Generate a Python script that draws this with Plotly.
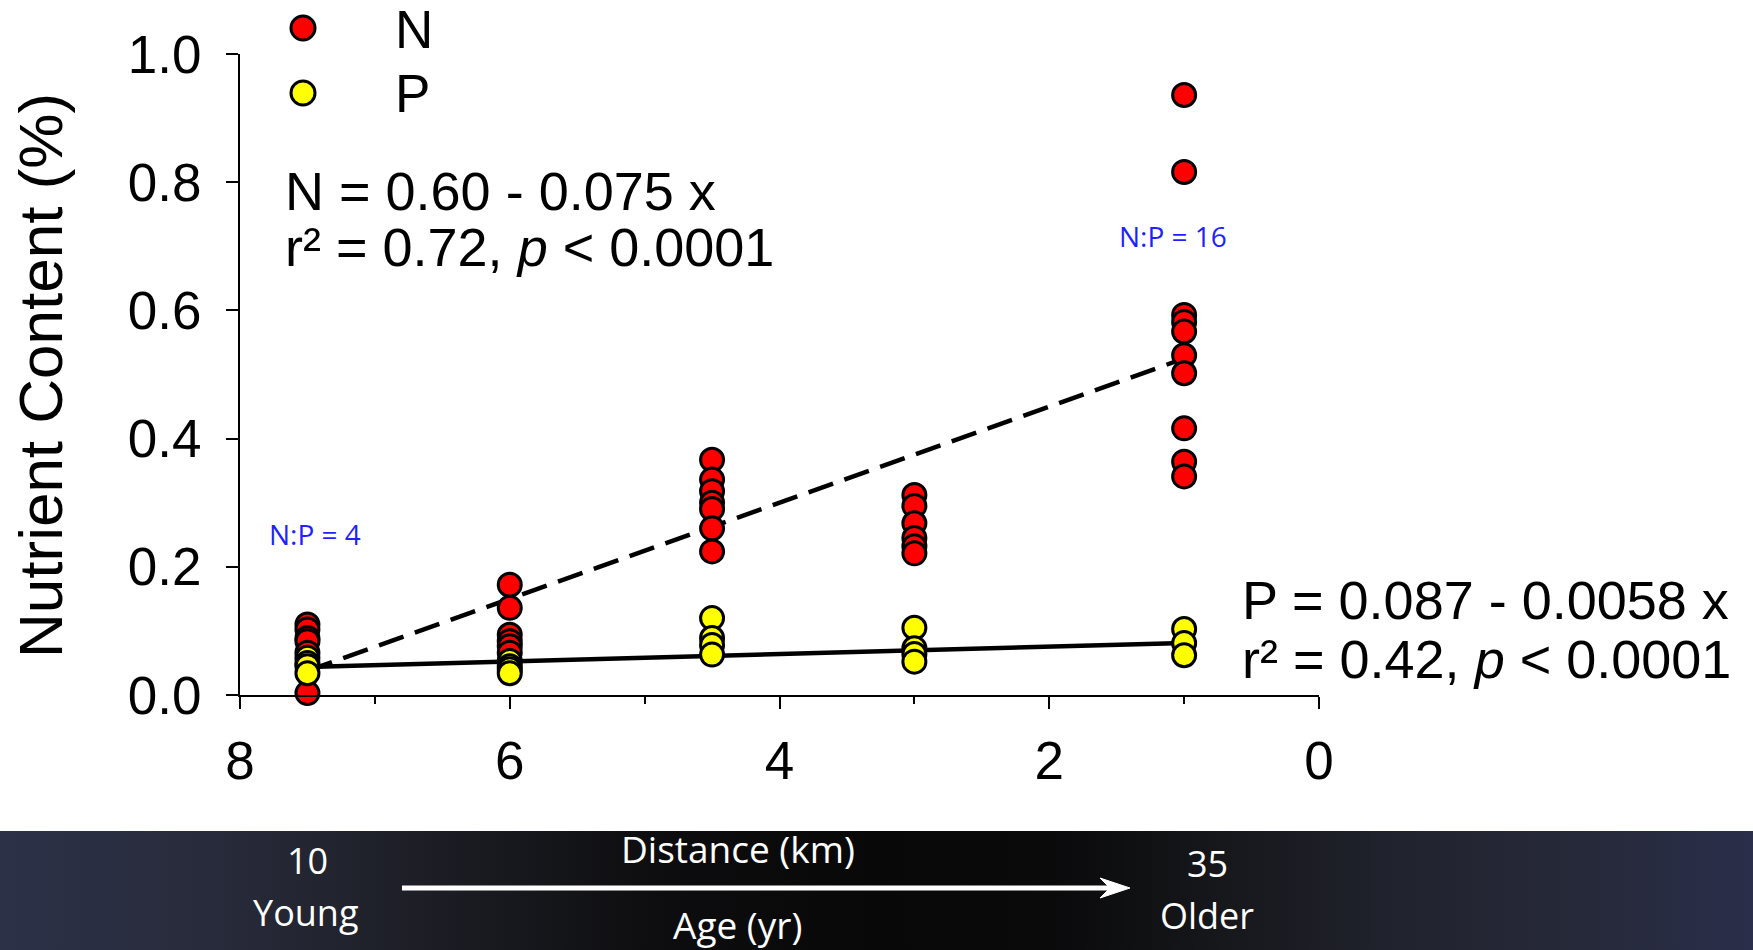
import base64
import plotly.graph_objects as go

W, H = 1753, 950

# ---------------- data ----------------
distance_km = [7.5, 6.0, 4.5, 3.0, 1.0]
n_values = [
    [0.110, 0.102, 0.089, 0.084, 0.066, 0.003],
    [0.172, 0.136, 0.094, 0.084, 0.076, 0.066],
    [0.367, 0.336, 0.318, 0.300, 0.290, 0.260, 0.224],
    [0.312, 0.295, 0.268, 0.245, 0.232, 0.221],
    [0.936, 0.816, 0.593, 0.582, 0.567, 0.530, 0.502, 0.416, 0.364, 0.341],
]
p_values = [
    [0.058, 0.050, 0.045, 0.034],
    [0.053, 0.045, 0.040, 0.034],
    [0.120, 0.089, 0.078, 0.063],
    [0.105, 0.073, 0.064, 0.052],
    [0.103, 0.081, 0.062],
]
# regression coefficients printed on the chart: y = a - b*x
n_fit = (0.60, 0.075)
p_fit = (0.087, 0.0058)
fit_x = [7.5, 1.0]

x_ticks = [8, 6, 4, 2, 0]
y_ticks = [0.0, 0.2, 0.4, 0.6, 0.8, 1.0]

# ---------------- helpers ----------------
def px(x):
    return x / W

def py(y):
    return 1 - y / H

def flatten(xs, groups):
    xx, yy = [], []
    for x, g in zip(xs, groups):
        for v in g:
            xx.append(x)
            yy.append(v)
    return xx, yy

nx, ny = flatten(distance_km, n_values)
pxs, pys = flatten(distance_km, p_values)

FONT = "Liberation Sans, Arial, sans-serif"
FONT2 = "Open Sans, Noto Sans, sans-serif"

fig = go.Figure()

fig.add_trace(go.Scatter(
    x=fit_x, y=[n_fit[0] - n_fit[1] * v for v in fit_x], mode="lines",
    line=dict(color="black", width=4.5, dash="26px,12px"), showlegend=False,
    hoverinfo="skip"))
fig.add_trace(go.Scatter(
    x=fit_x, y=[p_fit[0] - p_fit[1] * v for v in fit_x], mode="lines",
    line=dict(color="black", width=4.5), showlegend=False, hoverinfo="skip"))
fig.add_trace(go.Scatter(
    x=nx, y=ny, mode="markers", name="N",
    marker=dict(size=23, color="#ff0000", line=dict(color="black", width=3)),
    showlegend=False, cliponaxis=False))
fig.add_trace(go.Scatter(
    x=pxs, y=pys, mode="markers", name="P",
    marker=dict(size=23, color="#ffff00", line=dict(color="black", width=3)),
    showlegend=False, cliponaxis=False))

x0d, x1d = 240 / W, 1319 / W
y0d, y1d = 1 - 695 / H, 1 - 54 / H

fig.update_xaxes(
    domain=[x0d, x1d], range=[8, 0], tickvals=x_ticks, ticktext=[str(v) for v in x_ticks],
    showline=True, linecolor="black", linewidth=2, showgrid=False, zeroline=False,
    ticks="outside", ticklen=12, tickwidth=2, tickcolor="black",
    tickfont=dict(family=FONT, size=53, color="black"), ticklabelstandoff=6,
    minor=dict(ticks="outside", ticklen=7, tickwidth=2, tickcolor="black", dtick=1, tick0=0),
)
fig.update_yaxes(
    domain=[y0d, y1d], range=[0, 1], tickvals=y_ticks,
    ticktext=[f"{v:.1f}" for v in y_ticks],
    showline=True, linecolor="black", linewidth=2, showgrid=False, zeroline=False,
    ticks="outside", ticklen=12, tickwidth=2, tickcolor="black",
    tickfont=dict(family=FONT, size=53, color="black"), ticklabelstandoff=14,
)

ann = []
def text(x, y, t, size=54, color="black", family=FONT, xanchor="left", angle=0):
    ann.append(dict(x=px(x), y=py(y), xref="paper", yref="paper", text=t,
                    showarrow=False, xanchor=xanchor, yanchor="middle",
                    textangle=angle, font=dict(family=family, size=size, color=color)))

# y-axis title
text(41, 376, "Nutrient Content (%)", size=62, xanchor="center", angle=-90)
# legend
text(393, 30, "N", size=53)
text(393, 93, "P", size=53)
# equations
text(283, 191, "N = 0.60 - 0.075 x")
text(283, 247, "r² = 0.72, <i>p</i> &lt; 0.0001")
text(1240, 600, "P = 0.087 - 0.0058 x")
text(1240, 659, "r² = 0.42, <i>p</i> &lt; 0.0001")
# N:P ratios
text(315, 534, "N:P = 4", size=28, color="#1f1fff", family=FONT2, xanchor="center")
text(1173, 236, "N:P = 16", size=28, color="#1f1fff", family=FONT2, xanchor="center")
# bottom band texts
text(307, 860, "10", size=36, color="white", family=FONT2, xanchor="center")
text(306, 912, "Young", size=36, color="white", family=FONT2, xanchor="center")
text(738, 848, "Distance (km)", size=37, color="white", family=FONT2, xanchor="center")
text(737, 924, "Age (yr)", size=37, color="white", family=FONT2, xanchor="center")
text(1207, 863, "35", size=36, color="white", family=FONT2, xanchor="center")
text(1207, 915, "Older", size=36, color="white", family=FONT2, xanchor="center")

shapes = []
# legend markers
for cy, col in [(28, "#ff0000"), (93, "#ffff00")]:
    shapes.append(dict(type="circle", xref="paper", yref="paper",
                       xsizemode="pixel", ysizemode="pixel",
                       xanchor=px(303), yanchor=py(cy), x0=-12, x1=12, y0=-12, y1=12,
                       fillcolor=col, line=dict(color="black", width=3)))
# arrow
shapes.append(dict(type="line", xref="paper", yref="paper",
                   x0=px(402), x1=px(1112), y0=py(888), y1=py(888),
                   line=dict(color="white", width=5)))
tip, back, notch = 1130, 1100, 1110
shapes.append(dict(type="path", xref="paper", yref="paper",
                   path=f"M {px(tip)},{py(888)} L {px(back)},{py(878)} L {px(notch)},{py(888)} "
                        f"L {px(back)},{py(898)} Z",
                   fillcolor="white", line=dict(color="white", width=1)))

# gradient band as an svg image
band_top = 831
stops = [(0, "#2c3148"), (0.12, "#282b3b"), (0.25, "#1c1d24"), (0.38, "#0d0d0f"),
         (0.5, "#080808"), (0.6, "#0a0a0b"), (0.7, "#17181c"), (0.8, "#21232e"),
         (0.9, "#262939"), (1.0, "#2a2e4a")]
stop_xml = "".join(f'<stop offset="{o}" stop-color="{c}"/>' for o, c in stops)
svg = (f'<svg xmlns="http://www.w3.org/2000/svg" width="{W}" height="{H - band_top}" '
       f'preserveAspectRatio="none"><defs><linearGradient id="g" x1="0" x2="1" y1="0" y2="0">'
       f'{stop_xml}</linearGradient></defs><rect width="100%" height="100%" fill="url(#g)"/></svg>')
src = "data:image/svg+xml;base64," + base64.b64encode(svg.encode()).decode()

fig.update_layout(
    width=W, height=H, margin=dict(l=0, r=0, t=0, b=0, autoexpand=False),
    paper_bgcolor="white", plot_bgcolor="white",
    annotations=ann, shapes=shapes, showlegend=False, hovermode=False,
    images=[dict(source=src, xref="paper", yref="paper", x=0, y=py(band_top),
                 sizex=1, sizey=(H - band_top) / H, sizing="stretch",
                 xanchor="left", yanchor="top", layer="below")],
)

fig.write_html("out.html", config={"displayModeBar": False})
